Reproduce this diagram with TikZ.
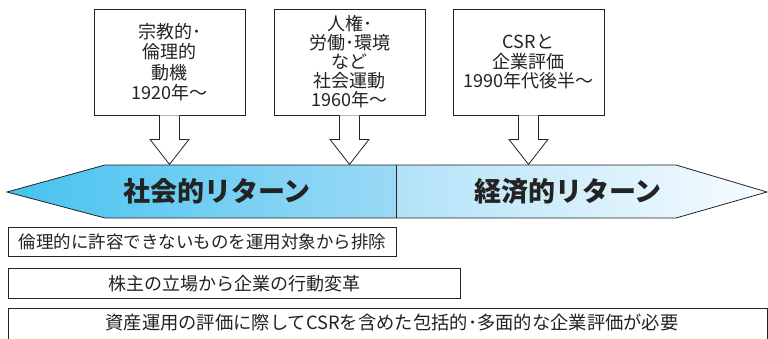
\documentclass[tikz,border=0pt]{standalone}
\usepackage{fontspec}
\newfontfamily\jp{Noto Sans CJK JP}
\definecolor{cyanA}{RGB}{70,195,240}
\definecolor{cyanB}{RGB}{155,217,246}
\definecolor{cyanC}{RGB}{178,226,248}
\definecolor{cyanD}{RGB}{248,252,255}
\definecolor{ink}{RGB}{35,35,35}
\begin{document}
\begin{tikzpicture}[x=1pt,y=-1pt,line width=0.8pt,
  topbox/.style={draw=ink,fill=white,minimum width=151pt,minimum height=106pt,inner sep=0pt,align=center,text=ink},
  rowbox/.style={draw=ink,fill=white,anchor=north west,inner sep=0pt,text=ink,font=\jp\fontsize{17.5}{20}\selectfont},
  bandtext/.style={text=ink,font=\jp\bfseries\fontsize{27}{30}\selectfont},
  hollow/.style={draw=ink,fill=white,line join=miter}]
\useasboundingbox (0,0) rectangle (768,338);
% top boxes
\node[topbox,font=\jp\fontsize{18}{20.5}\selectfont] (b1) at (169.5,62) {宗教的･\\倫理的\\動機\\1920年～};
\node[topbox,font=\jp\fontsize{18}{19}\selectfont] (b2) at (349.5,62) {人権･\\労働･環境\\など\\社会運動\\1960年～};
\node[topbox,font=\jp\fontsize{18}{19.5}\selectfont] (b3) at (528.5,62) {CSRと\\企業評価\\1990年代後半～};
% band
\shade[left color=cyanA,right color=cyanB] (7,192) -- (105,165) -- (396,165) -- (396,218) -- (105,218) -- cycle;
\shade[left color=cyanC,right color=cyanD] (396,165) -- (676,165) -- (767,192) -- (676,218) -- (396,218) -- cycle;
\draw[ink,line join=miter] (7,192) -- (105,165) -- (676,165) -- (767,192) -- (676,218) -- (105,218) -- cycle;
\draw[ink] (396,165) -- (396,218);
\node[bandtext] (soc) at (217,191) {社会的リターン};
\node[bandtext] (eco) at (568,191) {経済的リターン};
% hollow arrows
\foreach \b in {b1,b2,b3}{
  \draw[hollow] (\b.south) ++(-10,0) -- ++(0,24) -- ++(-9.5,0) -- ++(19.5,25) -- ++(19.5,-25) -- ++(-9.5,0) -- ++(0,-24);
}
% row boxes
\node[rowbox,minimum width=388pt,minimum height=29pt] (r1) at (8,227) {倫理的に許容できないものを運用対象から排除};
\node[rowbox,minimum width=452pt,minimum height=30pt,font=\jp\fontsize{18}{20}\selectfont] (r2) at (8,268) {株主の立場から企業の行動変革};
\begin{scope}
\clip (0,0) rectangle (768,338);
\draw[ink,fill=white] (8,345) -- (8,308) -- (767,308) -- (767,345);
\node[text=ink,font=\jp\fontsize{18.3}{20}\selectfont] (r3) at (392,323) {資産運用の評価に際してCSRを含めた包括的･多面的な企業評価が必要};
\end{scope}
\end{tikzpicture}
\end{document}
